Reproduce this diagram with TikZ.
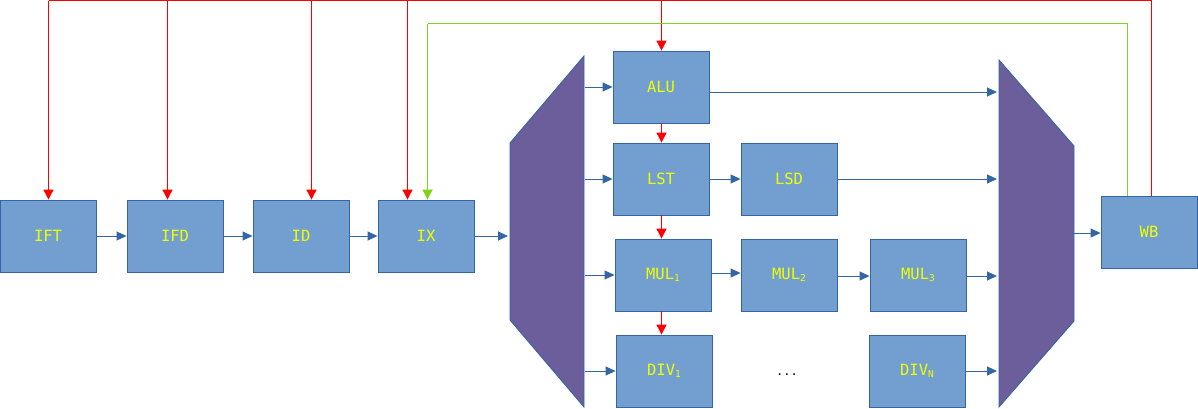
\documentclass[tikz,border=0pt]{standalone}
\usepackage{fontspec}
\setmonofont{DejaVu Sans Mono}
\usetikzlibrary{arrows.meta}
\definecolor{boxfill}{HTML}{729FCF}
\definecolor{boxline}{HTML}{3465A4}
\definecolor{muxfill}{HTML}{6B5E9B}
\definecolor{txtyellow}{HTML}{F0FF00}
\definecolor{fbred}{HTML}{FF0000}
\definecolor{fbgreen}{HTML}{7FD41A}
\newcommand{\sbs}[1]{\raisebox{-1.5pt}{\fontsize{9.5}{9.5}\selectfont #1}}
\begin{document}
\begin{tikzpicture}[x=1pt,y=-1pt,
  unit/.style={draw=boxline,fill=boxfill,line width=0.9pt,minimum width=96pt,minimum height=72pt,inner sep=0pt,
    font=\ttfamily\fontsize{15.5}{15.5}\selectfont,text=txtyellow},
  mux/.style={draw=boxline,fill=muxfill,line width=0.9pt},
  arr/.style={draw=boxline,line width=0.9pt,-{Triangle[length=10pt,width=9pt]}},
  redl/.style={draw=fbred,line width=1.1pt},
  redarr/.style={redl,-{Triangle[length=10pt,width=10pt]}},
  greenl/.style={draw=fbgreen,line width=1.1pt},
  greenarr/.style={greenl,-{Triangle[length=10pt,width=10pt]}}]
\useasboundingbox (0,0) rectangle (1198,408);
% pipeline stages
\node[unit] (IFT) at (48,236) {IFT};
\node[unit] (IFD) at (175,236) {IFD};
\node[unit] (ID) at (301,236) {ID};
\node[unit] (IX) at (426,236) {IX};
\node[unit] (ALU) at (661,87) {ALU};
\node[unit] (LST) at (661,179) {LST};
\node[unit] (LSD) at (789,179) {LSD};
\node[unit] (MUL1) at (663,275) {MUL\sbs{1}};
\node[unit] (MUL2) at (789,275) {MUL\sbs{2}};
\node[unit] (MUL3) at (918,275) {MUL\sbs{3}};
\node[unit] (DIV1) at (664,371) {DIV\sbs{1}};
\node[unit] (DIVN) at (917,371) {DIV\sbs{N}};
\node[unit] (WB) at (1149,232) {WB};
\node[font=\ttfamily\fontsize{12}{12}\selectfont,inner sep=0pt,anchor=base] (dots) at (787,375) {...};
% multiplexers
\coordinate (lmuxL) at (508,0);
\coordinate (lmuxR) at (585,0);
\coordinate (rmuxL) at (997,0);
\coordinate (rmuxR) at (1074,0);
\draw[mux] (584,56) -- (584,407) -- (510,320) -- (510,143) -- cycle;
\draw[mux] (999,60) -- (1074,146) -- (1074,321) -- (999,407) -- cycle;
% data path
\draw[arr] (IFT) -- (IFD);
\draw[arr] (IFD) -- (ID);
\draw[arr] (ID) -- (IX);
\draw[arr] (IX.east) -- (IX.east -| lmuxL);
\draw[arr] (ALU.west -| lmuxR) -- (ALU.west);
\draw[arr] (LST.west -| lmuxR) -- (LST.west);
\draw[arr] (MUL1.west -| lmuxR) -- (MUL1.west);
\draw[arr] (DIV1.west -| lmuxR) -- (DIV1.west);
\draw[arr] ([yshift=-5pt]ALU.east) -- ([yshift=-5pt]ALU.east -| rmuxL);
\draw[arr] (LST) -- (LSD);
\draw[arr] (LSD.east) -- (LSD.east -| rmuxL);
\draw[arr] ([yshift=2pt]MUL1.east) -- ([yshift=2pt]MUL2.west);
\draw[arr] ([yshift=-1pt]MUL2.east) -- ([yshift=-1pt]MUL3.west);
\draw[arr] ([yshift=-1pt]MUL3.east) -- ([yshift=-1pt]MUL3.east -| rmuxL);
\draw[arr] (DIVN.east) -- (DIVN.east -| rmuxL);
\draw[arr] ([yshift=-1pt]WB.west -| rmuxR) -- ([yshift=-1pt]WB.west);
% sequencing arrows
\draw[redarr] ([xshift=0.5pt]ALU.south) -- ([xshift=0.5pt]LST.north);
\draw[redarr] ([xshift=0.5pt]LST.south) -- ([xshift=0.5pt]LST.south |- MUL1.north);
\draw[redarr] ([xshift=0.5pt]MUL1.south -| LST.south) -- ([xshift=0.5pt]LST.south |- DIV1.north);
% red feedback
\coordinate (rtop) at (1151.5,0.6);
\draw[redl] ([xshift=2.5pt]WB.north) -- ([xshift=2.5pt]WB.north |- rtop) -- ([xshift=0.5pt]IFT.north |- rtop);
\draw[redarr] ([xshift=0.5pt]IFT.north |- rtop) -- ([xshift=0.5pt]IFT.north);
\draw[redarr] ([xshift=-7.5pt]IFD.north |- rtop) -- ([xshift=-7.5pt]IFD.north);
\draw[redarr] ([xshift=10.5pt]ID.north |- rtop) -- ([xshift=10.5pt]ID.north);
\draw[redarr] ([xshift=-18.5pt]IX.north |- rtop) -- ([xshift=-18.5pt]IX.north);
\draw[redarr] ([xshift=0.5pt]ALU.north |- rtop) -- ([xshift=0.5pt]ALU.north);
% green feedback
\coordinate (gtop) at (1127.5,23.5);
\draw[greenl] ([xshift=-21.5pt]WB.north) -- ([xshift=-21.5pt]WB.north |- gtop) -- ([xshift=1.5pt]IX.north |- gtop);
\draw[greenarr] ([xshift=1.5pt]IX.north |- gtop) -- ([xshift=1.5pt]IX.north);
\end{tikzpicture}
\end{document}
